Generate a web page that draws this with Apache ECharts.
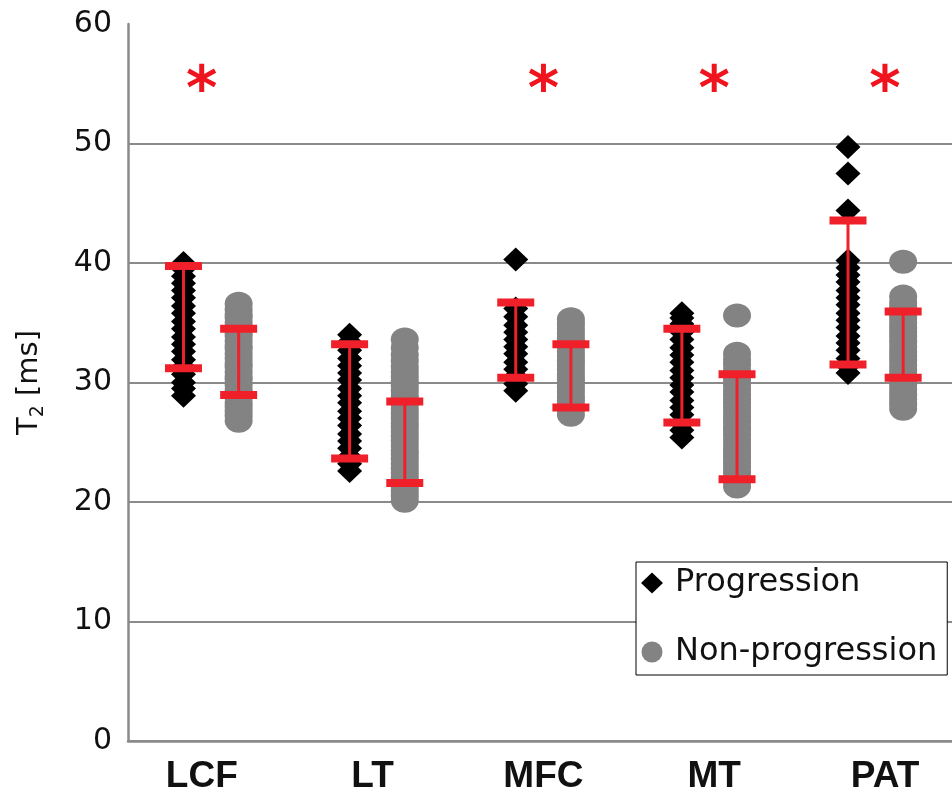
<!DOCTYPE html>
<html><head><meta charset="utf-8">
<script src="https://cdn.jsdelivr.net/npm/echarts@6/dist/echarts.min.js"></script>
<style>html,body{margin:0;padding:0;background:#fff}#c{width:952px;height:802px}</style>
</head><body><div id="c"></div>
<script>
// ---------------- data ----------------
const categories = ['LCF', 'LT', 'MFC', 'MT', 'PAT'];
const yTickValues = [0, 10, 20, 30, 40, 50, 60];

// individual T2 values (ms), progression group
const progLCF = [28.9, 29.5, 30.0, 30.7, 31.3, 31.9, 32.6, 33.2, 33.8, 34.5, 35.1, 35.8, 36.4, 37.1, 37.7, 38.3, 38.9, 39.5, 40.0];
const progLT  = [22.6, 23.2, 23.8, 24.5, 25.1, 25.7, 26.4, 27.0, 27.6, 28.3, 28.9, 29.5, 30.2, 30.8, 31.4, 32.0, 32.7, 33.4, 34.0];
const progMFC = [29.3, 29.9, 30.5, 31.1, 31.7, 32.4, 33.0, 33.6, 34.2, 34.8, 35.5, 36.2, 40.3];
const progMT  = [25.4, 26.0, 26.6, 27.3, 27.9, 28.5, 29.2, 29.8, 30.4, 31.0, 31.7, 32.3, 32.9, 33.6, 34.2, 34.9, 35.4, 35.8];
const progPAT = [30.8, 31.4, 32.0, 32.7, 33.3, 33.9, 34.6, 35.2, 35.8, 36.5, 37.1, 37.7, 38.4, 39.0, 39.6, 40.2, 44.4, 47.5, 49.7];

// individual T2 values (ms), non-progression group
const nonLCF = [26.8, 27.2, 27.6, 28.0, 28.3, 28.7, 29.1, 29.4, 29.8, 30.2, 30.5, 30.9, 31.3, 31.6, 32.0, 32.4, 32.8, 33.1, 33.5, 33.9, 34.2, 34.6, 35.0, 35.4, 35.7, 36.1, 36.6];
const nonLT  = [20.1, 20.5, 20.9, 21.3, 21.7, 22.0, 22.4, 22.8, 23.2, 23.6, 24.0, 24.3, 24.7, 25.1, 25.5, 25.9, 26.3, 26.6, 27.0, 27.4, 27.8, 28.2, 28.6, 28.9, 29.3, 29.7, 30.1, 30.5, 30.9, 31.3, 31.8, 32.3, 32.9, 33.6];
const nonMFC = [27.3, 27.7, 28.1, 28.5, 28.8, 29.2, 29.6, 30.0, 30.3, 30.7, 31.1, 31.5, 31.8, 32.2, 32.6, 33.0, 33.4, 33.7, 34.1, 34.5, 34.9, 35.3];
const nonMT  = [21.3, 21.7, 22.1, 22.5, 22.9, 23.3, 23.7, 24.0, 24.4, 24.8, 25.2, 25.6, 26.0, 26.3, 26.7, 27.1, 27.5, 27.9, 28.3, 28.6, 29.0, 29.4, 29.8, 30.2, 30.6, 31.0, 31.5, 31.9, 32.4, 35.6];
const nonPAT = [27.8, 28.2, 28.6, 29.0, 29.4, 29.8, 30.2, 30.6, 31.0, 31.4, 31.8, 32.2, 32.6, 33.0, 33.4, 33.8, 34.2, 34.6, 35.0, 35.4, 35.8, 36.3, 36.7, 37.2, 40.1];

// error bars (lower / upper ends)
const progLow  = [31.2, 23.65, 30.4, 26.65, 31.5];
const progHigh = [39.75, 33.2, 36.7, 34.5, 43.55];
const nonLow   = [28.95, 21.6, 27.9, 21.9, 30.4];
const nonHigh  = [34.5, 28.4, 33.2, 30.7, 35.95];

// significance markers
const sigCategories = ['LCF', 'MFC', 'MT', 'PAT'];
const sigLevel = 54.2;

// ---------------- build ----------------
const progGroups = [progLCF, progLT, progMFC, progMT, progPAT];
const nonGroups = [nonLCF, nonLT, nonMFC, nonMT, nonPAT];
const OFF = 0.166;
const RED = '#f0202a';
const GRID_COL = '#8a8a8a';

const progData = [], nonData = [];
progGroups.forEach((g, i) => g.forEach(v => progData.push([i - OFF, v])));
nonGroups.forEach((g, i) => g.forEach(v => nonData.push([i + OFF, v])));
const errData = [];
categories.forEach((c, i) => {
  errData.push([i - OFF, progLow[i], progHigh[i]]);
  errData.push([i + OFF, nonLow[i], nonHigh[i]]);
});
const sigData = sigCategories.map(c => [c, sigLevel]);
// label axis: one empty slot in front so the ticks sit where the reference puts them
const labelAxisData = [''].concat(categories);

const chart = echarts.init(document.getElementById('c'), null, {renderer: 'canvas'});
chart.setOption({
  animation: false,
  backgroundColor: '#fff',
  grid: [
    {left: 31, right: 67, top: 24, bottom: 61},
    {left: 128, right: 0, top: 24, bottom: 61}
  ],
  legend: {
    data: ['Progression', 'Non-progression'],
    orient: 'vertical',
    left: 636, top: 562,
    padding: [4, 10, 6, 5],
    itemGap: 35,
    itemWidth: 22, itemHeight: 21,
    backgroundColor: '#fff',
    borderColor: '#000', borderWidth: 1,
    textStyle: {fontFamily: 'DejaVu Sans', fontSize: 32, color: '#111', lineHeight: 34, padding: [0, 0, 0, 7]}
  },
  xAxis: [
    {
      type: 'category', gridIndex: 0, data: labelAxisData, boundaryGap: false,
      axisLine: {show: false}, axisTick: {show: false}, splitLine: {show: false},
      axisLabel: {interval: 0, fontFamily: 'Liberation Sans', fontWeight: 'bold', fontSize: 37, color: '#111', margin: 17}
    },
    {
      type: 'value', gridIndex: 1, min: -0.5, max: 4.46,
      axisLine: {show: true, onZero: false, lineStyle: {color: GRID_COL, width: 2.5}},
      axisTick: {show: false}, axisLabel: {show: false}, splitLine: {show: false}
    }
  ],
  yAxis: [
    {type: 'value', gridIndex: 0, min: 0, max: 60, show: false},
    {
      type: 'value', gridIndex: 1, min: 0, max: 60, interval: 10,
      name: '{a|T}{b|2}{a| [ms]}',
      nameLocation: 'middle', nameGap: 80,
      nameTextStyle: {
        rich: {
          a: {fontFamily: 'DejaVu Sans', fontSize: 29, color: '#111', lineHeight: 38},
          b: {fontFamily: 'DejaVu Sans', fontSize: 19, color: '#111', lineHeight: 19, verticalAlign: 'bottom'}
        }
      },
      axisLine: {show: true, onZero: false, lineStyle: {color: GRID_COL, width: 2.5}},
      axisTick: {show: false},
      axisLabel: {fontFamily: 'DejaVu Sans', fontSize: 30, color: '#111', margin: 16,
        formatter: v => yTickValues.includes(v) ? String(v) : ''},
      splitLine: {show: true, lineStyle: {width: 2,
        color: [GRID_COL, GRID_COL, GRID_COL, GRID_COL, GRID_COL, GRID_COL, 'rgba(0,0,0,0)']}}
    }
  ],
  series: [
    {
      name: 'Progression', type: 'scatter', xAxisIndex: 1, yAxisIndex: 1,
      symbol: 'diamond', symbolSize: [25, 24],
      itemStyle: {color: '#000', opacity: 1},
      data: progData, z: 2
    },
    {
      name: 'Non-progression', type: 'scatter', xAxisIndex: 1, yAxisIndex: 1,
      symbol: 'path://M0,1a1,1 0 1,0 2,0a1,1 0 1,0 -2,0z', symbolSize: [28, 24], symbolKeepAspect: false,
      itemStyle: {color: '#838383', opacity: 1},
      data: nonData, z: 2
    },
    {
      type: 'custom', xAxisIndex: 1, yAxisIndex: 1, z: 5, silent: true,
      encode: {x: 0, y: [1, 2]},
      data: errData,
      renderItem: function (params, api) {
        const x = api.value(0), lo = api.value(1), hi = api.value(2);
        const pLo = api.coord([x, lo]), pHi = api.coord([x, hi]);
        const cw = 37, ch = 8;
        return {type: 'group', children: [
          {type: 'line', shape: {x1: pLo[0], y1: pLo[1], x2: pHi[0], y2: pHi[1]}, style: {stroke: RED, lineWidth: 3}},
          {type: 'rect', shape: {x: pHi[0] - cw / 2, y: pHi[1] - ch / 2, width: cw, height: ch}, style: {fill: RED}},
          {type: 'rect', shape: {x: pLo[0] - cw / 2, y: pLo[1] - ch / 2, width: cw, height: ch}, style: {fill: RED}}
        ]};
      }
    },
    {
      type: 'custom', xAxisIndex: 0, yAxisIndex: 0, z: 5, silent: true,
      data: sigData,
      renderItem: function (params, api) {
        const p = api.coord([api.value(0), api.value(1)]);
        return {type: 'text', style: {text: '*', x: p[0], y: p[1], fill: '#f0141e',
          fontFamily: 'DejaVu Sans', fontWeight: 'bold', fontSize: 60, align: 'center', verticalAlign: 'middle'}};
      }
    }
  ]
});
</script></body></html>
